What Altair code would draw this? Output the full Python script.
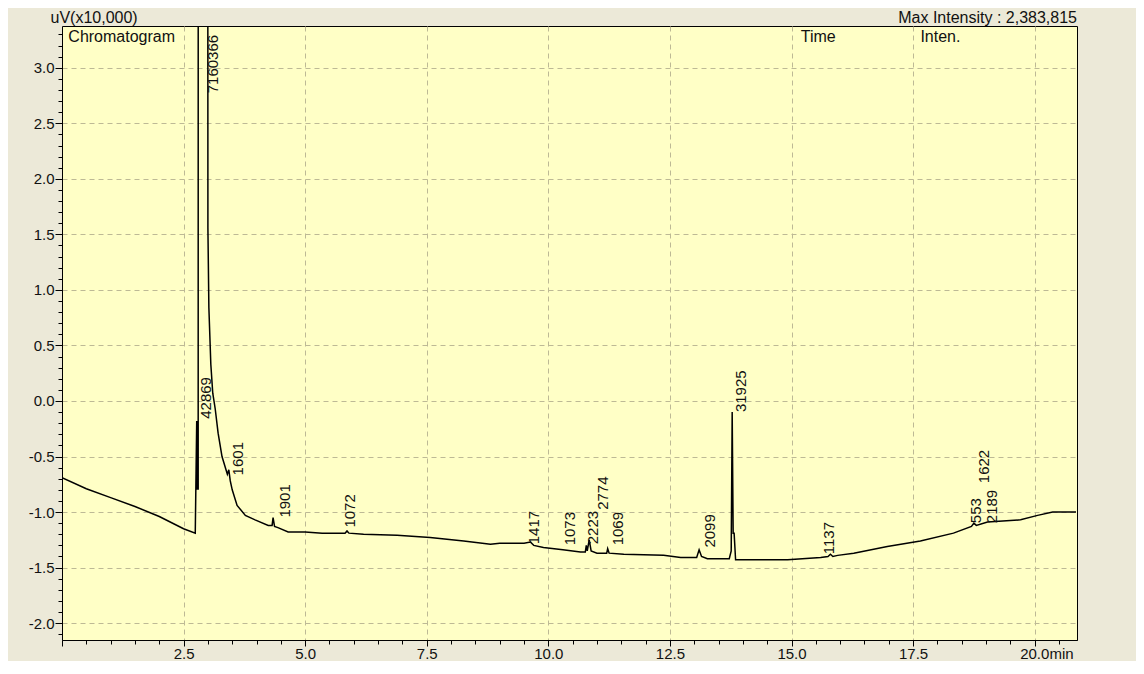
import altair as alt
import pandas as pd

# ---------------- data (time in min, uV x10,000) -------------
time_min = [0.00, 0.50, 1.00, 1.50, 2.00, 2.50, 2.74, 2.77, 2.78, 2.79, 2.80, 2.84,
            3.00, 3.02, 3.06, 3.10, 3.15, 3.21, 3.29, 3.40, 3.43, 3.46, 3.50, 3.60,
            3.77, 3.97, 4.24, 4.32, 4.34, 4.37, 4.44, 4.65, 5.00, 5.35, 5.82, 5.86,
            5.90, 6.20, 6.89, 7.57, 8.26, 8.81, 9.00, 9.50, 9.63, 9.70, 9.90, 10.30,
            10.66, 10.76, 10.78, 10.80, 10.84, 10.88, 11.00, 11.20, 11.22, 11.25,
            11.55, 12.37, 12.72, 13.05, 13.10, 13.15, 13.27, 13.72, 13.76, 13.78,
            13.80, 13.82, 13.85, 14.92, 15.60, 15.75, 15.80, 15.85, 15.95, 16.28,
            16.97, 17.65, 18.33, 18.70, 18.75, 18.80, 19.03, 19.71, 20.06, 20.37, 20.85]
intensity = [-0.69, -0.79, -0.87, -0.95, -1.04, -1.15, -1.19, -0.18, -0.80, -0.20, -0.80, 238.38,
             1.56, 0.84, 0.33, 0.07, -0.07, -0.29, -0.50, -0.66, -0.62, -0.72, -0.80, -0.94,
             -1.03, -1.07, -1.12, -1.12, -1.05, -1.13, -1.14, -1.18, -1.18, -1.19, -1.19, -1.17,
             -1.19, -1.20, -1.21, -1.23, -1.26, -1.29, -1.28, -1.28, -1.27, -1.30, -1.32, -1.34,
             -1.36, -1.36, -1.30, -1.35, -1.25, -1.35, -1.37, -1.37, -1.33, -1.37,
             -1.38, -1.39, -1.41, -1.41, -1.34, -1.40, -1.42, -1.42, -1.35, -0.10,
             -1.19, -1.19, -1.43, -1.43, -1.41, -1.40, -1.38, -1.40, -1.39, -1.37,
             -1.31, -1.26, -1.19, -1.13, -1.10, -1.12, -1.09, -1.07, -1.03, -1.00, -1.00]

# peak annotations: label text, time where label sits, intensity where label starts
peak_text = ["7160366", "42869", "1601", "1901", "1072", "1417", "1073", "2223", "2774",
             "1069", "2099", "31925", "1137", "553", "1622", "2189"]
peak_time = [2.96, 2.82, 3.48, 4.44, 5.78, 9.57, 10.31, 10.78, 10.97,
             11.28, 13.19, 13.81, 15.62, 18.64, 18.81, 18.97]
peak_level = [2.77, -0.16, -0.67, -1.05, -1.14, -1.29, -1.30, -1.29, -0.98,
              -1.30, -1.32, -0.10, -1.38, -1.10, -0.74, -1.10]

header_text = ["Chromatogram", "Time", "Inten."]
header_time = [0.13, 15.19, 17.65]

x_tick_values = [round(i * 0.5, 1) for i in range(0, 42)]     # 0.0 ... 20.5
y_tick_values = [round(i * 0.1, 1) for i in range(-21, 34)]   # -2.1 ... 3.3

X_DOMAIN = [0.0, 20.87]
Y_DOMAIN = [-2.152, 3.376]

FONT = "Liberation Sans"
BG = "#ECE9D8"
PLOT_BG = "#FFFFC6"
GRID = "#bdb995"

# ---------------- axes ----------------
MAJ_X = "abs(datum.value/2.5 - round(datum.value/2.5)) < 1e-6"
MAJ_Y = "abs(datum.value*2 - round(datum.value*2)) < 1e-6"

x_axis = alt.Axis(
    values=x_tick_values,
    title=None,
    labelExpr=f"({MAJ_X}) && datum.value > 0 ? (datum.value == 20 ? '20.0min' : format(datum.value, '.1f')) : ''",
    labelAlign={"condition": {"test": "datum.value == 20", "value": "left"}, "value": "center"},
    labelOffset={"condition": {"test": "datum.value == 20", "value": -15}, "value": 0},
    tickSize={"condition": {"test": MAJ_X, "value": 6}, "value": 4},
    gridOpacity={"condition": {"test": MAJ_X, "value": 1}, "value": 0},
    labelOverlap=False, labelFlush=False, labelBound=False,
    labelPadding=0,
)

y_axis = alt.Axis(
    values=y_tick_values,
    title="uV(x10,000)",
    titleAngle=0, titleAlign="left", titleBaseline="bottom",
    titleX=-12, titleY=-1,
    titleFontSize=16, titleFontWeight="normal", titleFont=FONT, titleColor="#111111",
    labelExpr=f"({MAJ_Y}) ? (datum.value < 0 ? '-' : '') + format(abs(datum.value), '.1f') : ''",
    tickSize={"condition": {"test": MAJ_Y, "value": 7}, "value": 4},
    gridOpacity={"condition": {"test": MAJ_Y, "value": 1}, "value": 0},
    labelOverlap=False, labelFlush=False, labelBound=False,
    labelPadding=1,
)

x_enc = alt.X("t:Q", scale=alt.Scale(domain=X_DOMAIN, nice=False, zero=False), axis=x_axis)
y_enc = alt.Y("v:Q", scale=alt.Scale(domain=Y_DOMAIN, nice=False, zero=False), axis=y_axis)

# ---------------- layers ----------------
trace_df = pd.DataFrame({"t": time_min, "v": intensity, "i": list(range(len(time_min)))})
trace = alt.Chart(trace_df).mark_line(color="black", strokeWidth=1.5, clip=True).encode(
    x=x_enc, y=y_enc, order="i:Q"
)

label_df = pd.DataFrame({"t": peak_time, "v": peak_level, "label": peak_text})
labels = alt.Chart(label_df).mark_text(
    angle=270, align="left", baseline="middle", dy=7,
    font=FONT, fontSize=15, color="#111111"
).encode(x=x_enc, y=y_enc, text="label:N")

header_df = pd.DataFrame({"t": header_time, "v": [Y_DOMAIN[1]] * len(header_time), "label": header_text})
headers = alt.Chart(header_df).mark_text(
    align="left", baseline="top", dy=3,
    font=FONT, fontSize=16, color="#111111"
).encode(x=x_enc, y=y_enc, text="label:N")

chart = alt.layer(trace, labels, headers).properties(
    width=1015,
    height=614,
    title=alt.TitleParams(
        "Max Intensity : 2,383,815", anchor="end", frame="group",
        fontSize=16, fontWeight="normal", font=FONT, color="#111111",
        offset=2, dy=19,
    ),
    autosize=alt.AutoSizeParams(type="none"),
    padding={"left": 54, "top": 18, "right": 59, "bottom": 21},
    background=BG,
).configure_view(
    fill=PLOT_BG, stroke="black", strokeWidth=1
).configure_axis(
    domainColor="black", domainWidth=1, tickColor="black", tickWidth=1,
    labelColor="#111111", labelFont=FONT, labelFontSize=15,
    gridColor=GRID, gridDash=[5, 4], gridWidth=1,
)

chart.save("out.html", embed_options={"renderer": "svg", "actions": False})
